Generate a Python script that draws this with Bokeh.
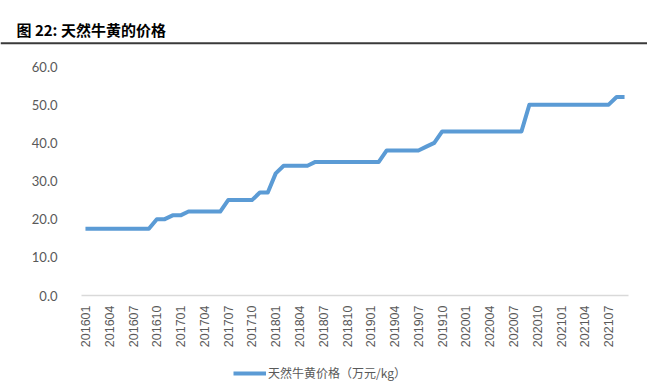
import math
from bokeh.plotting import figure
from bokeh.models import (Range1d, Label, Span, FixedTicker, NumeralTickFormatter,
                          Legend, LegendItem, ColumnDataSource)
from bokeh.layouts import column
from bokeh.embed import file_html
from bokeh.resources import INLINE

# ---- data ----
months = [f"{y}{m:02d}" for y in range(2016, 2022) for m in range(1, 13)][:69]  # 201601..202109
prices = ([17.5] * 9 + [20] * 2 + [21] * 2 + [22] * 5 + [25] * 4 + [27] * 2 + [32] +
          [34] * 4 + [35] * 9 + [38] * 5 + [39] + [40] + [43] * 11 + [50] * 11 + [52] * 2)
y_ticks = [0, 10, 20, 30, 40, 50, 60]
title_text = "图 22:  天然牛黄的价格"
series_name = "天然牛黄价格（万元/kg）"

W = 647
LINE_COLOR = "#5B9BD5"
idx = list(range(len(months)))
shown = [i for i in idx if i % 3 == 0]


def bare(fig):
    fig.frame_align = False
    fig.axis.visible = False
    fig.grid.visible = False
    fig.outline_line_color = None


# ---- title strip ----
TH = 48
t = figure(width=W, height=TH, x_range=Range1d(0, W), y_range=Range1d(0, TH),
           output_backend="svg", toolbar_location=None,
           min_border_left=0, min_border_right=0, min_border_top=0, min_border_bottom=0)
bare(t)
t.add_layout(Label(x=16, y=TH - 28.5, text=title_text, text_font="Noto Sans CJK SC",
                   text_font_style="bold", text_font_size="15px", text_color="#000000",
                   text_baseline="middle"))
t.add_layout(Span(location=TH - 42.7, dimension="width", line_color="#3a3a3a", line_width=2))

# ---- main chart ----
src = ColumnDataSource(dict(x=idx, y=prices))
p = figure(width=W, height=312, x_range=Range1d(-0.5, len(months) - 0.5), y_range=Range1d(0, 60),
           output_backend="svg", toolbar_location=None,
           min_border_left=81, min_border_right=19, min_border_top=18, min_border_bottom=65)
p.frame_align = False
r = p.line("x", "y", source=src, line_color=LINE_COLOR, line_width=4, line_join="round")

p.grid.visible = False
p.outline_line_color = None

p.yaxis.ticker = FixedTicker(ticks=y_ticks)
p.yaxis.formatter = NumeralTickFormatter(format="0.0")
p.yaxis.axis_line_color = None
p.yaxis.major_tick_line_color = None
p.yaxis.minor_tick_line_color = None
p.yaxis.major_label_text_font = "Lato"
p.yaxis.major_label_text_font_size = "13px"
p.yaxis.major_label_text_color = "#595959"
p.yaxis.major_label_standoff = 18

p.xaxis.ticker = FixedTicker(ticks=shown)
p.xaxis.major_label_overrides = {i: months[i] for i in shown}
p.xaxis.axis_line_color = "#D9D9D9"
p.xaxis.axis_line_width = 1.5
p.xaxis.major_tick_line_color = None
p.xaxis.minor_tick_line_color = None
p.xaxis.major_label_orientation = math.pi / 2
p.xaxis.major_label_text_font = "Liberation Sans"
p.xaxis.major_label_text_font_size = "12.5px"
p.xaxis.major_label_text_color = "#595959"
p.xaxis.major_label_standoff = 4

# ---- legend strip ----
LH = 25
lg = figure(width=W, height=LH, x_range=Range1d(0, 1), y_range=Range1d(0, 1),
            output_backend="svg", toolbar_location=None,
            min_border_left=0, min_border_right=0, min_border_top=0, min_border_bottom=0)
bare(lg)
sample = lg.line(x=[float("nan")], y=[float("nan")], line_color=LINE_COLOR, line_width=4)
legend = Legend(items=[LegendItem(label=series_name, renderers=[sample])],
                location=(233, 4), orientation="horizontal",
                label_text_font="Noto Sans CJK SC", label_text_font_size="12px",
                label_text_color="#595959", glyph_width=33, glyph_height=10,
                label_height=14, border_line_color=None, background_fill_alpha=0,
                padding=0, margin=0, label_standoff=2)
lg.add_layout(legend, "center")

layout = column(t, p, lg, spacing=0)
open("out.html", "w").write(file_html(layout, INLINE))
